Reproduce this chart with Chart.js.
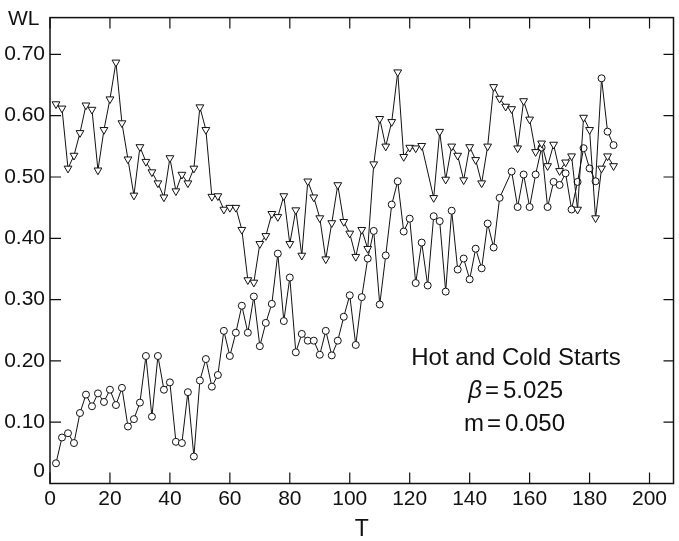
<!DOCTYPE html>
<html>
<head>
<meta charset="utf-8">
<script src="https://cdn.jsdelivr.net/npm/chart.js@4.4.0/dist/chart.umd.min.js"></script>
<style>
    html, body { margin: 0; padding: 0; background: #fff; }
    #wrap { width: 679px; height: 541px; }
</style>
</head>
<body>
<div id="wrap"><canvas id="wlChart" width="679" height="541"></canvas></div>
<script>
/* DATA */
const hotT = [2,4,6,8,10,12,14,16,18,20,22,24,26,28,30,32,34,36,38,40,42,44,46,48,50,52,54,56,58,60,
    62,64,66,68,70,72,74,76,78,80,82,84,86,88,90,92,94,96,98,100,102,104,106,108,110,112,114,116,118,120,
    122,124,128,130,132,134,136,138,140,142,144,146,148,150,152,154,156,158,160,162,164,166,168,170,172,
    174,176,178,180,182,184,186,188];
const hotWL = [0.619,0.612,0.514,0.535,0.572,0.617,0.610,0.511,0.577,0.627,
    0.687,0.588,0.529,0.470,0.549,0.525,0.508,0.490,0.467,0.531,
    0.477,0.504,0.490,0.514,0.614,0.577,0.468,0.469,0.447,0.450,
    0.450,0.414,0.332,0.328,0.391,0.404,0.440,0.435,0.469,0.391,
    0.446,0.372,0.493,0.467,0.433,0.366,0.425,0.487,0.427,0.408,
    0.370,0.414,0.383,0.521,0.595,0.550,0.590,0.671,0.533,0.548,
    0.547,0.551,
    0.466,0.574,0.496,0.550,0.535,0.495,0.549,0.528,0.490,0.550,
    0.647,0.628,0.615,0.611,0.547,0.624,0.594,0.541,0.555,0.518,
    0.553,0.510,0.524,0.534,0.447,0.597,0.577,0.433,0.514,0.534,
    0.518];

const coldT = [2,4,6,8,10,12,14,16,18,20,22,24,26,28,30,32,34,36,38,40,42,44,46,48,50,52,54,56,58,60,
    62,64,66,68,70,72,74,76,78,80,82,84,86,88,90,92,94,96,98,100,102,104,106,108,110,112,114,116,118,120,
    122,124,126,128,130,132,134,136,138,140,142,144,146,148,150,154,156,158,160,162,164,166,168,170,172,
    174,176,178,180,182,184,186,188];
const coldWL = [0.033,0.075,0.082,0.066,0.115,0.145,0.126,0.147,0.133,0.153,
    0.128,0.156,0.093,0.105,0.132,0.208,0.109,0.208,0.153,0.165,
    0.068,0.066,0.149,0.044,0.168,0.203,0.158,0.177,0.249,0.208,
    0.246,0.290,0.246,0.305,0.224,0.262,0.293,0.375,0.265,0.336,
    0.214,0.244,0.233,0.233,0.210,0.249,0.209,0.233,0.272,0.307,
    0.226,0.304,0.367,0.412,0.292,0.372,0.455,0.493,0.411,0.432,
    0.327,0.393,0.323,0.436,0.428,0.313,0.445,0.349,0.367,0.333,
    0.383,0.351,0.424,0.385,0.466,
    0.509,0.451,0.504,0.451,0.504,0.548,0.451,0.492,0.487,0.506,
    0.447,0.492,0.547,0.514,0.493,0.661,0.574,0.552];

const xTicks = [0,20,40,60,80,100,120,140,160,180,200];
const yTicks = [0,0.1,0.2,0.3,0.4,0.5,0.6,0.7];

const FONT = "'Liberation Sans', Arial, sans-serif";
const INK = "#111";

/* FRAME + INWARD TICKS + TEXT */
const frameTicks = {
    id: "frameTicks",
    beforeDatasetsDraw(chart) {
        const { ctx, chartArea: a, scales: { x, y } } = chart;
        ctx.save();
        ctx.strokeStyle = INK;
        ctx.lineWidth = 1.5;
        ctx.strokeRect(a.left, a.top, a.right - a.left, a.bottom - a.top);

        ctx.lineWidth = 1.2;
        ctx.beginPath();
        xTicks.forEach(v => {
            const px = x.getPixelForValue(v);
            ctx.moveTo(px, a.bottom); ctx.lineTo(px, a.bottom - 11);
            ctx.moveTo(px, a.top); ctx.lineTo(px, a.top + 11);
        });
        yTicks.forEach(v => {
            const py = y.getPixelForValue(v);
            ctx.moveTo(a.left, py); ctx.lineTo(a.left + 11, py);
            ctx.moveTo(a.right, py); ctx.lineTo(a.right - 10, py);
        });
        ctx.stroke();
        ctx.restore();
    },
    afterDraw(chart) {
        const { ctx } = chart;
        ctx.save();
        ctx.fillStyle = INK;
        ctx.textBaseline = "middle";

        ctx.font = "21px " + FONT;
        ctx.textAlign = "left";
        ctx.fillText("WL", 8, 19);

        ctx.font = "24px " + FONT;
        ctx.textAlign = "center";
        ctx.fillText("Hot and Cold Starts", 516, 358);

        // beta line: symbol, "=", value
        ctx.font = "italic 24px " + FONT;
        ctx.textAlign = "right";
        ctx.fillText("\u03B2", 482, 391);
        ctx.font = "24px " + FONT;
        ctx.textAlign = "center";
        ctx.fillText("=", 492, 391);
        ctx.textAlign = "left";
        ctx.fillText("5.025", 503, 391);

        // m line, same spacing
        ctx.textAlign = "right";
        ctx.fillText("m", 484, 424);
        ctx.textAlign = "center";
        ctx.fillText("=", 494, 424);
        ctx.textAlign = "left";
        ctx.fillText("0.050", 505, 424);
        ctx.restore();
    }
};

/* CHART */
const ctx = document.getElementById("wlChart");
new Chart(ctx, {
    type: "line",
    data: {
        datasets: [{
            label: "Hot start",
            data: hotT.map((t, i) => ({ x: t, y: hotWL[i] })),
            borderColor: INK,
            borderWidth: 1,
            pointStyle: "triangle",
            rotation: 180,
            pointRadius: 4.5,
            pointBackgroundColor: "#fff",
            pointBorderColor: INK,
            pointBorderWidth: 1,
            tension: 0
        }, {
            label: "Cold start",
            data: coldT.map((t, i) => ({ x: t, y: coldWL[i] })),
            borderColor: INK,
            borderWidth: 1,
            pointStyle: "circle",
            pointRadius: 3.5,
            pointBackgroundColor: "#fff",
            pointBorderColor: INK,
            pointBorderWidth: 1,
            tension: 0
        }]
    },
    options: {
        responsive: false,
        animation: false,
        layout: { padding: { top: 5, right: 5, left: 0, bottom: 0 } },
        plugins: { legend: { display: false }, tooltip: { enabled: false } },
        scales: {
            x: {
                type: "linear",
                min: 0,
                max: 208,
                afterBuildTicks: s => { s.ticks = xTicks.map(v => ({ value: v })); },
                afterFit: s => { s.height = 57.5; },
                grid: { display: false, drawTicks: false },
                border: { display: false },
                ticks: {
                    color: INK,
                    font: { family: FONT, size: 21 },
                    padding: 3,
                    maxRotation: 0,
                    autoSkip: false
                },
                title: {
                    display: true,
                    text: "T",
                    color: INK,
                    font: { family: FONT, size: 23, lineHeight: 1 },
                    padding: 0
                }
            },
            y: {
                type: "linear",
                min: 0,
                max: 0.76,
                afterBuildTicks: s => { s.ticks = yTicks.map(v => ({ value: v })); },
                afterFit: s => { s.width = 50; },
                grid: { display: false, drawTicks: false },
                border: { display: false },
                ticks: {
                    color: INK,
                    font: { family: FONT, size: 21 },
                    padding: 5,
                    autoSkip: false,
                    callback: v => v === 0 ? ["0", ""] : v.toFixed(2)
                }
            }
        }
    },
    plugins: [frameTicks]
});
</script>
</body>
</html>
